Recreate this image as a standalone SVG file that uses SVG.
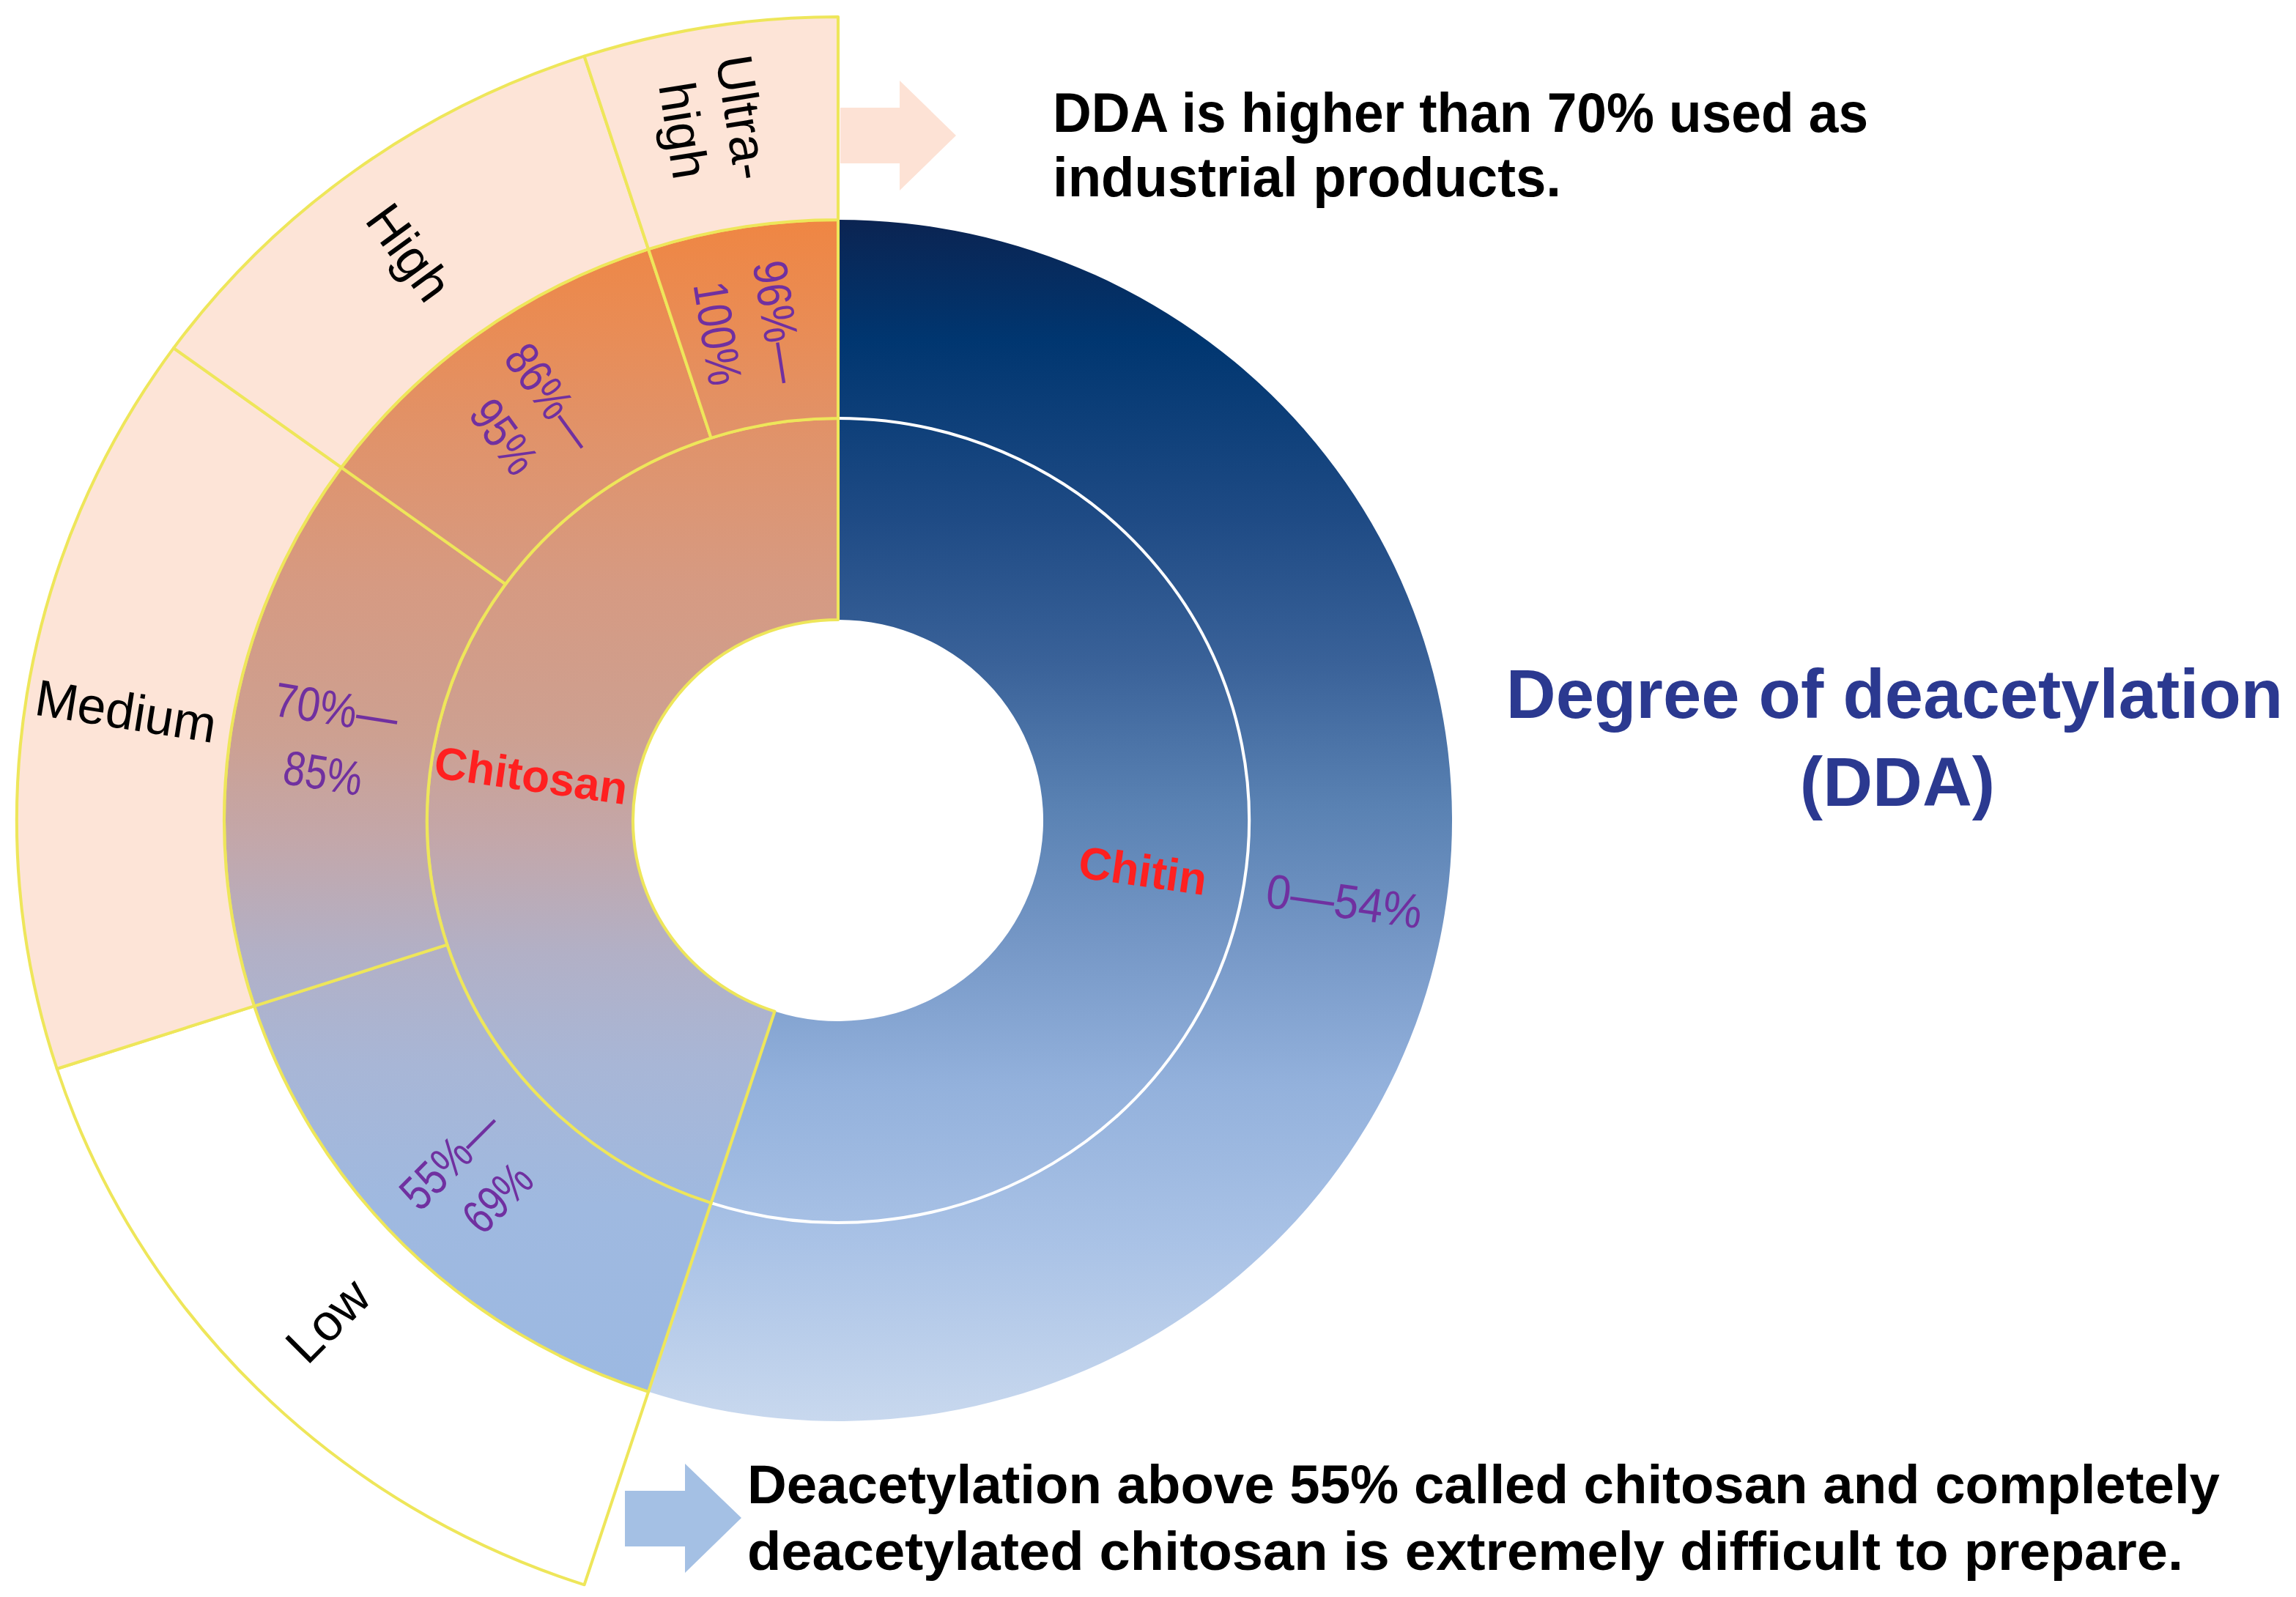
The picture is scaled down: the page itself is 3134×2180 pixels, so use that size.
<svg xmlns="http://www.w3.org/2000/svg" width="3134" height="2180" viewBox="0 0 3134 2180">
<defs>
<linearGradient id="gChitin" gradientUnits="userSpaceOnUse" x1="0" y1="-820" x2="0" y2="820">
<stop offset="0" stop-color="#0B2452"/>
<stop offset="0.1" stop-color="#003670"/>
<stop offset="0.25" stop-color="#1F4B85"/>
<stop offset="0.37" stop-color="#3A6299"/>
<stop offset="0.49" stop-color="#5A82B3"/>
<stop offset="0.6" stop-color="#7597C6"/>
<stop offset="0.72" stop-color="#93B1DC"/>
<stop offset="0.85" stop-color="#A9C2E6"/>
<stop offset="1" stop-color="#C8D8EE"/>
</linearGradient>
<linearGradient id="gChitosan" gradientUnits="userSpaceOnUse" x1="0" y1="-820" x2="0" y2="780">
<stop offset="0" stop-color="#EF8643"/>
<stop offset="0.09" stop-color="#E98C55"/>
<stop offset="0.19" stop-color="#E0936B"/>
<stop offset="0.31" stop-color="#D69A82"/>
<stop offset="0.44" stop-color="#CDA091"/>
<stop offset="0.53" stop-color="#C3A7AA"/>
<stop offset="0.625" stop-color="#B2B0C6"/>
<stop offset="0.72" stop-color="#A8B6D6"/>
<stop offset="0.84" stop-color="#9FB9E0"/>
<stop offset="1" stop-color="#9CB9E2"/>
</linearGradient>
<style>
.seg{stroke:#EEE65A;stroke-width:4;stroke-linejoin:round}
.peach{fill:#FDE4D7}
.white{fill:#FFFFFF}
.cs{fill:url(#gChitosan)}
.lbl{font-family:"Liberation Sans",Arial,sans-serif;font-size:70px;fill:#000;text-anchor:middle}
.pct{font-family:"Liberation Sans",Arial,sans-serif;font-size:66px;fill:#7030A0;text-anchor:middle}
.red{font-family:"Liberation Sans",Arial,sans-serif;font-size:62px;font-weight:bold;fill:#FF2020;text-anchor:middle}
.note{font-family:"Liberation Sans",Arial,sans-serif;font-weight:bold;fill:#000}
.title{font-family:"Liberation Sans",Arial,sans-serif;font-weight:bold;font-size:94px;fill:#2B3990;text-anchor:middle}
</style>
</defs>
<rect width="3134" height="2180" fill="#FFFFFF"/>

<g id="chart" transform="translate(1144 1120) scale(1.022 1)">
  <g id="chitin">
    <path d="M 0,-820 A 820 820 0 1 1 -253.40,779.87 L -84.67,260.59 A 274 274 0 1 0 0,-274 Z" fill="url(#gChitin)"/>
    <path d="M 0,-549 A 549 549 0 1 1 -169.65,522.13" fill="none" stroke="#FFFFFF" stroke-width="4"/>
  </g>
  <g id="chitosan">
    <path class="seg cs" d="M -169.65,522.13 A 549 549 0 0 1 0,-549 L 0,-274 A 274 274 0 0 0 -84.67,260.59 Z"/>
  </g>
  <g id="range-55-69">
    <path class="seg cs" d="M -253.40,779.87 A 820 820 0 0 1 -779.87,253.40 L -522.13,169.65 A 549 549 0 0 0 -169.65,522.13 Z"/>
  </g>
  <g id="range-70-85">
    <path class="seg cs" d="M -779.87,253.40 A 820 820 0 0 1 -663.40,-481.99 L -444.15,-322.70 A 549 549 0 0 0 -522.13,169.65 Z"/>
  </g>
  <g id="range-86-95">
    <path class="seg cs" d="M -663.40,-481.99 A 820 820 0 0 1 -253.40,-779.87 L -169.65,-522.13 A 549 549 0 0 0 -444.15,-322.70 Z"/>
  </g>
  <g id="range-96-100">
    <path class="seg cs" d="M -253.40,-779.87 A 820 820 0 0 1 0,-820 L 0,-549 A 549 549 0 0 0 -169.65,-522.13 Z"/>
  </g>
  <g id="low">
    <path class="seg white" d="M -339,1043.31 A 1097 1097 0 0 1 -1043.31,339 L -779.87,253.40 A 820 820 0 0 0 -253.40,779.87 Z"/>
  </g>
  <g id="medium">
    <path class="seg peach" d="M -1043.31,339 A 1097 1097 0 0 1 -887.49,-644.81 L -663.40,-481.99 A 820 820 0 0 0 -779.87,253.40 Z"/>
  </g>
  <g id="high">
    <path class="seg peach" d="M -887.49,-644.81 A 1097 1097 0 0 1 -339,-1043.31 L -253.40,-779.87 A 820 820 0 0 0 -663.40,-481.99 Z"/>
  </g>
  <g id="ultra-high">
    <path class="seg peach" d="M -339,-1043.31 A 1097 1097 0 0 1 0,-1097 L 0,-820 A 820 820 0 0 0 -253.40,-779.87 Z"/>
  </g>
</g>

<g id="labels">
  <text class="lbl" transform="translate(1015 160) rotate(81)" x="0" y="25">Ultra-</text>
  <text class="lbl" transform="translate(934 178) rotate(81)" x="0" y="25">high</text>
  <text class="lbl" transform="translate(559 344) rotate(54)" x="0" y="25">High</text>
  <text class="lbl" transform="translate(172 970) rotate(9)" x="0" y="25">Medium</text>
  <text class="lbl" transform="translate(447 1802) rotate(-45)" x="0" y="25">Low</text>

  <text class="pct" transform="translate(1063 439) rotate(81)" x="0" y="23" textLength="168" lengthAdjust="spacingAndGlyphs">96%—</text>
  <text class="pct" transform="translate(980 455) rotate(81)" x="0" y="23" textLength="142" lengthAdjust="spacingAndGlyphs">100%</text>
  <text class="pct" transform="translate(752 542) rotate(54)" x="0" y="23" textLength="162" lengthAdjust="spacingAndGlyphs">86%—</text>
  <text class="pct" transform="translate(688 596) rotate(54)" x="0" y="23" textLength="108" lengthAdjust="spacingAndGlyphs">95%</text>
  <text class="pct" transform="translate(459 967) rotate(9)" x="0" y="23" textLength="170" lengthAdjust="spacingAndGlyphs">70%—</text>
  <text class="pct" transform="translate(441 1055) rotate(9)" x="0" y="23" textLength="108" lengthAdjust="spacingAndGlyphs">85%</text>
  <text class="pct" transform="translate(614 1582) rotate(-45)" x="0" y="23" textLength="162" lengthAdjust="spacingAndGlyphs">55%—</text>
  <text class="pct" transform="translate(679 1635) rotate(-45)" x="0" y="23" textLength="104" lengthAdjust="spacingAndGlyphs">69%</text>
  <text class="pct" transform="translate(1835 1230) rotate(8)" x="0" y="23" textLength="214" lengthAdjust="spacingAndGlyphs">0—54%</text>

  <text class="red" transform="translate(725 1058) rotate(8)" x="0" y="22">Chitosan</text>
  <text class="red" transform="translate(1560 1188) rotate(8)" x="0" y="22">Chitin</text>
</g>

<g id="connectors">
  <polygon points="1147,147 1228,147 1228,110 1305,185 1228,260 1228,223 1147,223" fill="#FDE2D5"/>
  <polygon points="853,2035 935,2035 935,1998 1012,2072 935,2147 935,2111 853,2111" fill="#A4C0E4"/>
</g>

<g id="note-top">
  <text class="note" font-size="76" x="1437" y="180" textLength="1113" lengthAdjust="spacingAndGlyphs">DDA is higher than 70% used as</text>
  <text class="note" font-size="76" x="1437" y="268" textLength="694" lengthAdjust="spacingAndGlyphs">industrial products.</text>
</g>

<g id="title">
  <text class="title" x="2586" y="980">Degree of deacetylation</text>
  <text class="title" x="2590" y="1100">(DDA)</text>
</g>

<g id="note-bottom">
  <text class="note" font-size="74" x="1020" y="2052" textLength="2010" lengthAdjust="spacingAndGlyphs">Deacetylation above 55% called chitosan and completely</text>
  <text class="note" font-size="74" x="1020" y="2143" textLength="1960" lengthAdjust="spacingAndGlyphs">deacetylated chitosan is extremely difficult to prepare.</text>
</g>
</svg>
